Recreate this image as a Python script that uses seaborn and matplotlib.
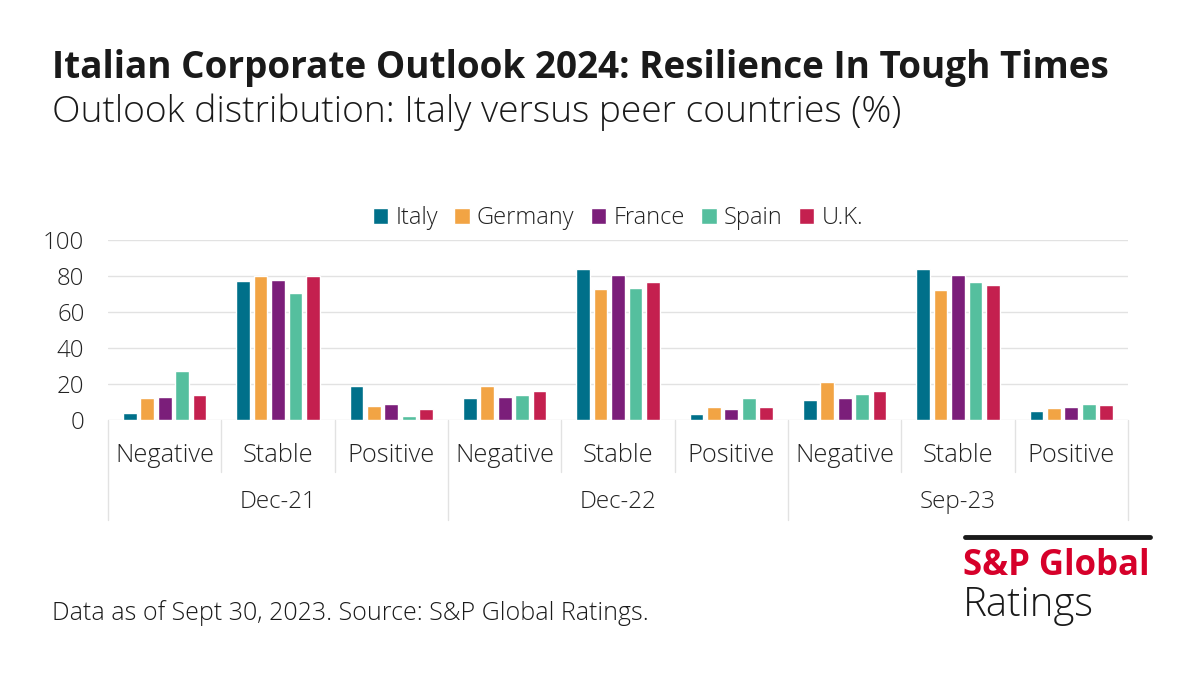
import matplotlib
matplotlib.use("Agg")
import matplotlib.pyplot as plt
import matplotlib.transforms as mtransforms
import seaborn as sns
import pandas as pd

periods = ["Dec-21", "Dec-22", "Sep-23"]
outlooks = ["Negative", "Stable", "Positive"]
countries = ["Italy", "Germany", "France", "Spain", "U.K."]
colors = ["#00708A", "#F2A444", "#7B1E7A", "#55BF9E", "#C4204F"]

# values per country, ordered period x outlook
italy   = [4, 77, 19, 12, 84, 3.5, 11, 84, 5]
germany = [12, 80, 8, 19, 73, 7, 21, 72.5, 6.5]
france  = [13, 78, 9, 13, 80.5, 6, 12, 80.5, 7]
spain   = [27, 70.5, 2, 14, 73.5, 12, 14.5, 76.5, 9]
uk      = [14, 80, 6, 16, 76.5, 7.5, 16, 75, 8.5]

series = [italy, germany, france, spain, uk]
rows = []
for cname, vals in zip(countries, series):
    i = 0
    for p in periods:
        for o in outlooks:
            rows.append({"cat": f"{p}|{o}", "country": cname, "value": vals[i]})
            i += 1
df = pd.DataFrame(rows)
order = [f"{p}|{o}" for p in periods for o in outlooks]

sns.set_theme(style="white")
plt.rcParams["font.family"] = ["Open Sans", "DejaVu Sans"]

fig = plt.figure(figsize=(12, 6.75), dpi=100)
ax = fig.add_axes([108/1200, 1-420/675, (1128-108)/1200, 180/675])

sns.barplot(data=df, x="cat", y="value", hue="country", order=order,
            hue_order=countries, palette=colors, width=0.77, gap=0.21,
            ax=ax, saturation=1, legend=True)

TXT = "#222222"
ax.set_xlim(-0.5, 8.5)
ax.set_ylim(0, 100)
ax.set_yticks(range(0, 101, 20))
ax.yaxis.grid(True, color="#e2e2e2", linewidth=1)
ax.set_axisbelow(True)
for s in ax.spines.values():
    s.set_visible(False)
ax.set_xlabel("")
ax.set_ylabel("")
ax.set_xticks(range(9))
ax.set_xticklabels([o for p in periods for o in outlooks], fontsize=18.3, color=TXT)
ax.tick_params(axis="x", length=0, pad=16.5)
ax.tick_params(axis="y", length=0, pad=17, labelsize=17.3, labelcolor=TXT)
for lab in ax.get_yticklabels() + ax.get_xticklabels():
    lab.set_fontweight("light")

trans = mtransforms.blended_transform_factory(ax.transData, ax.transAxes)
for x in [0.5, 1.5, 3.5, 4.5, 6.5, 7.5]:
    ax.plot([x, x], [0, -0.29], transform=trans, color="#e2e2e2", lw=1, clip_on=False)
for x in [-0.5, 2.5, 5.5, 8.5]:
    ax.plot([x, x], [0, -0.556], transform=trans, color="#e2e2e2", lw=1, clip_on=False)
for i, p in enumerate(periods):
    ax.text(1 + 3*i, -0.455, p, transform=trans, ha="center", va="center",
            fontsize=17.4, fontweight="light", color=TXT)

leg = ax.legend(loc="center", bbox_to_anchor=(0.5, (218-420)/-180), ncol=5, frameon=False,
                fontsize=17, handlelength=0.65, handleheight=0.65, handletextpad=0.3,
                columnspacing=0.7)
for t in leg.get_texts():
    t.set_fontweight("light")
    t.set_color(TXT)

fig.text(52/1200, 1-68/675, "Italian Corporate Outlook 2024: Resilience In Tough Times",
         fontsize=26.6, fontweight="bold", color="#1a1a1a", va="center")
fig.text(52/1200, 1-112/675, "Outlook distribution: Italy versus peer countries (%)",
         fontsize=26.8, fontweight="light", color="#1a1a1a", va="center")
fig.text(52/1200, 1-613/675, "Data as of Sept 30, 2023. Source: S&P Global Ratings.",
         fontsize=18, fontweight="light", color="#1a1a1a", va="center")

# logo
fig.add_artist(plt.Line2D([965/1200, 1150/1200], [1-537/675, 1-537/675], color="#1a1a1a", lw=3.5))
fig.text(963/1200, 1-566/675, "S&P Global", fontsize=25, fontweight="bold", color="#D6002A", va="center")
fig.text(963/1200, 1-605/675, "Ratings", fontsize=29, fontweight="light", color="#1a1a1a", va="center")

fig.savefig("out.png", dpi=100, facecolor="white")
